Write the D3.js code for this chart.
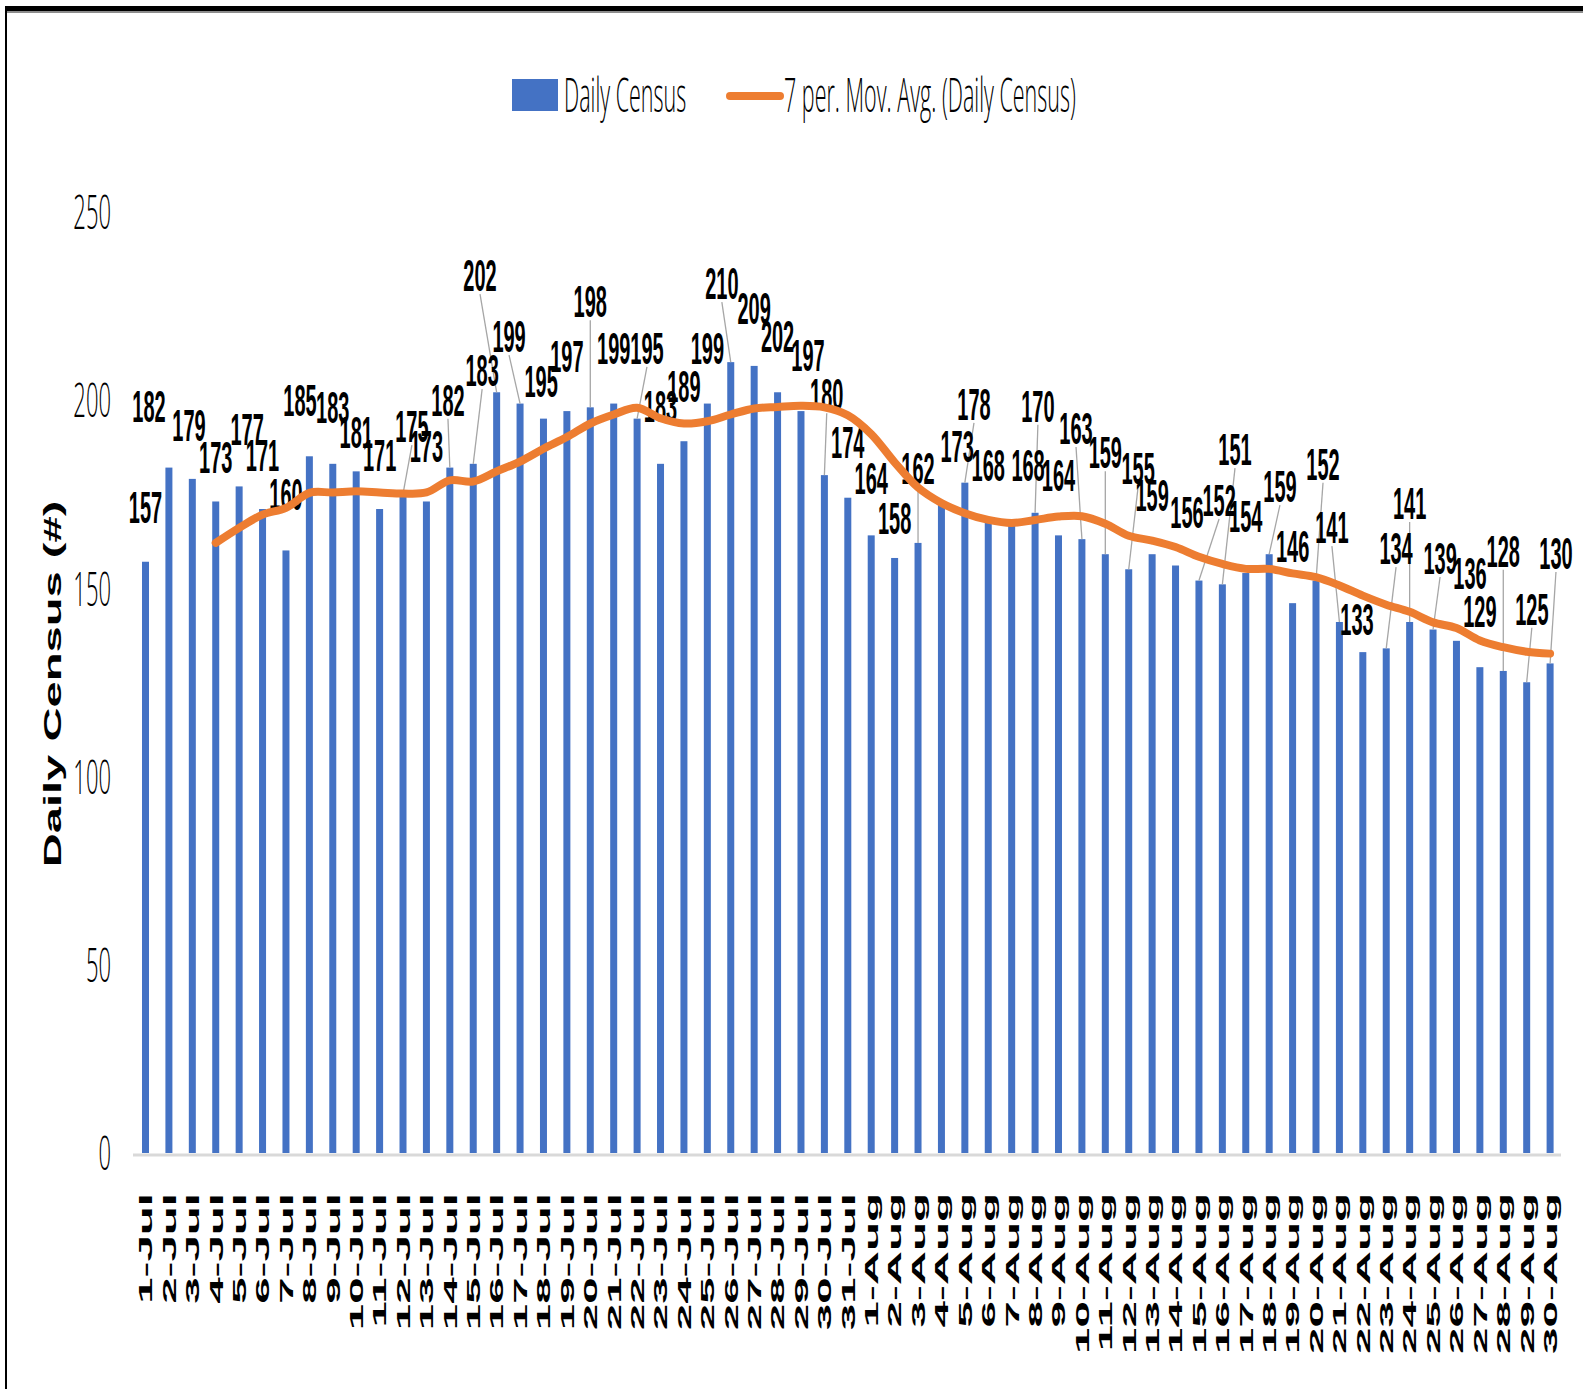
<!DOCTYPE html>
<html>
<head>
<meta charset="utf-8">
<script src="https://cdn.jsdelivr.net/npm/d3@7"></script>
<style>
  html, body { margin: 0; padding: 0; background: #ffffff; }
  svg { display: block; }
</style>
</head>
<body>
<svg id="chart" width="1583" height="1389"></svg>
<script>
// ---------------- DATA ----------------
const categories = [
  "1-Jul","2-Jul","3-Jul","4-Jul","5-Jul","6-Jul","7-Jul","8-Jul","9-Jul","10-Jul",
  "11-Jul","12-Jul","13-Jul","14-Jul","15-Jul","16-Jul","17-Jul","18-Jul","19-Jul","20-Jul",
  "21-Jul","22-Jul","23-Jul","24-Jul","25-Jul","26-Jul","27-Jul","28-Jul","29-Jul","30-Jul","31-Jul",
  "1-Aug","2-Aug","3-Aug","4-Aug","5-Aug","6-Aug","7-Aug","8-Aug","9-Aug","10-Aug",
  "11-Aug","12-Aug","13-Aug","14-Aug","15-Aug","16-Aug","17-Aug","18-Aug","19-Aug","20-Aug",
  "21-Aug","22-Aug","23-Aug","24-Aug","25-Aug","26-Aug","27-Aug","28-Aug","29-Aug","30-Aug"
];
const dailyCensus = [
  157,182,179,173,177,171,160,185,183,181,
  171,175,173,182,183,202,199,195,197,198,
  199,195,183,189,199,210,209,202,197,180,174,
  164,158,162,173,178,168,168,170,164,163,
  159,155,159,156,152,151,154,159,146,152,
  141,133,134,141,139,136,129,128,125,130
];
// 7 per. moving average line
const movingAvg = [
  null,null,null,162,166,169.5,171.3,175.3,175.4,175.7,
  175.4,175.1,175.4,178.6,178.3,181,183.6,187,190.1,193.7,
  196.1,197.9,195.1,193.7,194.3,196.1,197.7,198.1,198.4,198,195.9,
  190.9,183.4,176.7,172.6,169.9,168.1,167.3,168.1,169,169.1,
  167.1,163.9,162.6,160.9,158.3,156.4,155.1,155.1,153.9,152.9,
  150.7,148,145.6,143.7,140.9,139.4,136.1,134.3,133.1,132.6
];
const yTicks = [0, 50, 100, 150, 200, 250];
const seriesNames = ["Daily Census", "7 per. Mov. Avg. (Daily Census)"];
const yAxisTitle = "Daily Census (#)";

// label placement (shift in bar steps, lift in value units above the bar, leader line flag)
const labelLayout = [
  [0,14.5,0],[-0.85,16.4,0],[-0.14,14.3,0],[0,11.8,0],[0.34,15.2,0],[0,14.3,0],[0,15,0],[-0.4,15,0],[0,15.1,0],[0,10.5,0],
  [0,14.3,0],[0.38,18,1],[0,14.7,0],[-0.08,18,1],[0.38,24.9,1],[-0.71,31.1,1],[-0.47,17.9,1],[-0.1,10,0],[0,14.6,0],[0,28.2,1],
  [0,14.8,0],[0.42,18.8,1],[0,15.4,0],[0,14.7,0],[0,14.8,0],[-0.38,21,1],[0,15.4,0],[0,14.9,0],[0.3,14.9,0],[0.1,21.5,1],[0,14.8,0],
  [0,15.2,0],[0,10.5,0],[0,19.9,1],[0.67,14.7,0],[0.39,20.9,1],[0,14.7,0],[0.7,14.7,0],[0.12,28.4,1],[0,16,0],[-0.25,29.5,1],
  [0,27.1,1],[0.4,26.9,1],[0,15.7,0],[0.49,14.2,0],[0.86,21.4,1],[0.54,35.9,1],[0,15.1,0],[0.46,18.1,1],[0,15.2,0],[0.3,31,1],
  [-0.32,25.2,1],[-0.25,8.8,0],[0.42,26.6,1],[0,31.6,1],[0.3,19,1],[0.58,18,0],[0,14.9,0],[0,31.9,1],[0.22,19.5,1],[0.25,29.3,1]
];

// ---------------- CHART ----------------
const svg = d3.select("#chart");
const BLUE = "#4472C4", ORANGE = "#ED7D31";
const STRETCH = 2.2; // the source image is stretched vertically

svg.append("rect").attr("width", 1583).attr("height", 1389).attr("fill", "#fff");

const x = d3.scalePoint().domain(categories).range([145.5, 1550.1]);
const step = x.step();
const y = d3.scaleLinear().domain([0, 250]).range([1153, 211.5]);

// bars
const barW = 7;
svg.append("g").selectAll("rect").data(dailyCensus).join("rect")
  .attr("x", (d, i) => x(categories[i]) - barW / 2)
  .attr("y", d => y(d))
  .attr("width", barW)
  .attr("height", d => y(0) - y(d))
  .attr("fill", BLUE);

// category axis line
svg.append("line")
  .attr("x1", 133).attr("x2", 1561)
  .attr("y1", y(0) + 2).attr("y2", y(0) + 2)
  .attr("stroke", "#d9d9d9").attr("stroke-width", 3);

// y tick labels
svg.append("g").selectAll("text").data(yTicks).join("text")
  .attr("transform", d => `translate(111,${y(d)}) scale(1,${STRETCH})`)
  .attr("y", 22 * 0.36)
  .attr("text-anchor", "end")
  .attr("font-family", "'Open Sans', 'Liberation Sans', sans-serif")
  .attr("font-weight", 300)
  .attr("font-size", 22)
  .attr("fill", "#000")
  .text(d => d);

// x tick labels
const xfs = 19;
svg.append("g").selectAll("text").data(categories).join("text")
  .attr("transform", d => `translate(${x(d)},1193) rotate(-90) scale(2.5,1)`)
  .attr("y", xfs * 0.36)
  .attr("text-anchor", "end")
  .attr("font-family", "'Liberation Sans', Arial, sans-serif")
  .attr("font-weight", "bold")
  .attr("font-size", xfs)
  .attr("fill", "#000")
  .text(d => d);

// y axis title
svg.append("text")
  .attr("transform", `translate(53,684) rotate(-90) scale(2.05,1)`)
  .attr("y", 23 * 0.36)
  .attr("text-anchor", "middle")
  .attr("font-family", "'Liberation Sans', Arial, sans-serif")
  .attr("font-weight", "bold")
  .attr("font-size", 23)
  .attr("fill", "#000")
  .text(yAxisTitle);

// data labels + leader lines
const lfs = 20;
const labels = dailyCensus.map((v, i) => {
  const [dx, lift, leader] = labelLayout[i];
  return {
    v, leader,
    bx: x(categories[i]), by: y(v),
    cx: x(categories[i]) + dx * step,
    cy: y(v + lift)
  };
});
svg.append("g").selectAll("line").data(labels.filter(d => d.leader)).join("line")
  .attr("x1", d => d.cx).attr("y1", d => d.cy + 19)
  .attr("x2", d => d.bx).attr("y2", d => d.by)
  .attr("stroke", "#a6a6a6").attr("stroke-width", 1.3);
svg.append("g").selectAll("text").data(labels).join("text")
  .attr("transform", d => `translate(${d.cx},${d.cy}) scale(1,${STRETCH})`)
  .attr("y", lfs * 0.36)
  .attr("text-anchor", "middle")
  .attr("font-family", "'Liberation Sans', Arial, sans-serif")
  .attr("font-weight", "bold")
  .attr("font-size", lfs)
  .attr("fill", "#000")
  .text(d => d.v);

// moving average line
const line = d3.line()
  .defined(d => d != null)
  .x((d, i) => x(categories[i]))
  .y(d => y(d))
  .curve(d3.curveCatmullRom.alpha(0.5));
svg.append("path")
  .datum(movingAvg)
  .attr("d", line)
  .attr("fill", "none")
  .attr("stroke", ORANGE)
  .attr("stroke-width", 8)
  .attr("stroke-linecap", "round")
  .attr("stroke-linejoin", "round");

// legend
const lg = svg.append("g");
lg.append("rect").attr("x", 512).attr("y", 79).attr("width", 46).attr("height", 32).attr("fill", BLUE);
lg.append("line").attr("x1", 730).attr("x2", 780).attr("y1", 96).attr("y2", 96)
  .attr("stroke", ORANGE).attr("stroke-width", 8).attr("stroke-linecap", "round");
const legendX = [564, 784];
lg.selectAll("text.leg").data(seriesNames).join("text")
  .attr("class", "leg")
  .attr("transform", (d, i) => `translate(${legendX[i]},95) scale(1,${STRETCH})`)
  .attr("y", 21.5 * 0.36)
  .attr("font-family", "'Open Sans', 'Liberation Sans', sans-serif")
  .attr("font-weight", 300)
  .attr("font-size", 21.5)
  .attr("fill", "#000")
  .text(d => d);

// frame (top thick rule and left rule)
svg.append("rect").attr("x", 5).attr("y", 6).attr("width", 1578).attr("height", 5).attr("fill", "#000");
svg.append("rect").attr("x", 5).attr("y", 11).attr("width", 1578).attr("height", 2).attr("fill", "#8c8c8c");
svg.append("rect").attr("x", 5).attr("y", 6).attr("width", 2).attr("height", 1383).attr("fill", "#000");
</script>
</body>
</html>
